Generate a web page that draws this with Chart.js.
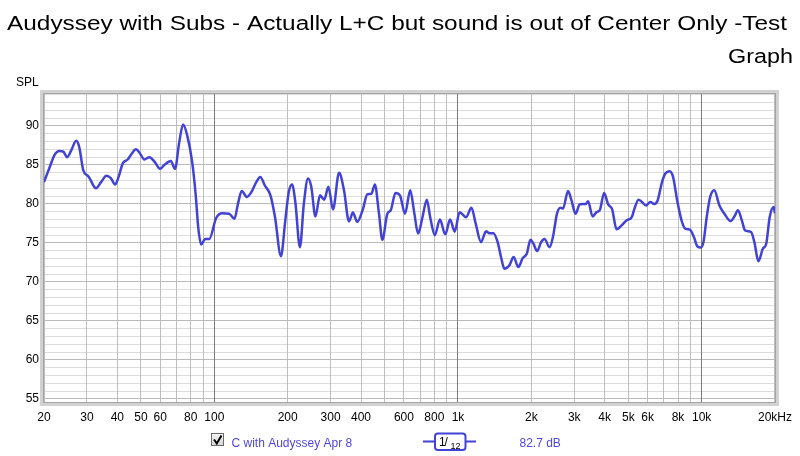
<!DOCTYPE html>
<html>
<head>
<meta charset="utf-8">
<title>Audyssey with Subs</title>
<script src="https://cdn.jsdelivr.net/npm/chart.js@4.4.1/dist/chart.umd.min.js"></script>
<style>
    html, body { margin: 0; padding: 0; background: #fff; }
    #wrap { width: 800px; height: 456px; position: relative; }
</style>
</head>
<body>
<div id="wrap"><canvas id="splChart"></canvas></div>
<script>
// Frequency response (Hz / dB SPL)
const freqs = [
    20, 21.1, 22.1, 23.1, 24.0, 24.9, 25.9, 27.1, 27.9, 29.0,
    30.5, 32.7, 34.3, 36.1, 37.6, 39.2, 40.5, 42.1, 44.1, 45.5, 47.7, 49.5,
    51.6, 54.2, 56.9, 59.9, 62.3, 66.3, 69.0, 71.7, 74.5, 77.4, 81.1, 83.8, 85.9, 88.3, 91.7, 95.3,
    101.8, 108, 115, 121, 125, 129.6, 136, 141.8, 148.7, 154.5, 161, 170, 177.5, 187.7, 195.6, 202, 208.5, 215,
    224.6, 233, 242.4, 250, 260, 271.5, 282.5, 294, 307, 325, 340.6, 357, 370.5, 386, 407, 424.6, 441, 456, 474, 489.5,
    513, 530, 554, 578, 606, 637, 661, 686, 715, 745, 769, 804, 843, 887, 928, 970, 1015,
    1079, 1136, 1184, 1243, 1304, 1346, 1397, 1455, 1502, 1550, 1624, 1692, 1769, 1843, 1915, 1984, 2040, 2112, 2194, 2265, 2377, 2453,
    2549, 2632, 2698, 2830, 2923, 3036, 3162, 3347, 3420, 3567, 3704, 3820, 3979, 4133, 4293, 4475, 4693, 4925, 5167,
    5300, 5510, 5690, 5910, 6155, 6392, 6597, 6876, 7098, 7393, 7636, 7935, 8268, 8588, 8946, 9297, 9600, 9910, 10170,
    10490, 10840, 11270, 11830, 12400, 13160, 13660, 14090, 14620, 15080, 15950, 16460, 17100, 17830, 18410, 19020, 19760, 20000
];
const spl = [
    82.8, 84.7, 86.3, 86.8, 86.7, 86.0, 86.9, 88.1, 87.3, 84.3,
    83.5, 82.0, 82.8, 83.6, 83.3, 82.5, 83.5, 85.2, 85.7, 86.3, 87.0, 86.5,
    85.7, 86.0, 85.4, 84.5, 85.0, 85.5, 84.5, 87.8, 90.2, 88.8, 85.4, 81.3, 77.0, 74.8, 75.5, 75.5,
    78.2, 78.8, 78.75, 78.1, 80.0, 81.65, 80.9, 81.5, 82.8, 83.45, 82.4, 81.1, 78.3, 73.3, 77.9, 81.5, 82.5, 80.25,
    74.45, 80.0, 83.25, 82.2, 78.4, 81.1, 80.55, 82.2, 79.3, 84.0, 81.75, 77.75, 78.9, 77.7, 79.3, 81.25, 81.3, 82.5, 78.75, 75.4,
    78.75, 79.2, 81.4, 81.1, 78.75, 81.75, 78.95, 76.2, 78.3, 80.55, 78.3, 76.0, 78.0, 76.1, 78.0, 76.45, 78.95,
    78.3, 79.5, 77.4, 75.1, 76.5, 76.25, 76.25, 75.1, 73.2, 71.7, 72.1, 73.2, 71.9, 73.05, 73.6, 75.4, 74.9, 73.95, 75.1, 75.5, 74.45, 75.75,
    78.75, 79.5, 79.4, 81.65, 80.45, 78.75, 79.95, 80.0, 80.35, 78.4, 78.95, 79.2, 81.4, 79.95, 79.3, 76.75, 77.25, 77.9, 78.3,
    79.4, 80.55, 80.25, 79.8, 80.25, 80.0, 80.45, 82.8, 83.9, 84.2, 83.45, 80.45, 77.9, 76.8, 76.7, 75.75, 74.55, 74.4, 75.1,
    78.3, 80.9, 81.75, 79.8, 78.75, 77.8, 78.45, 79.2, 77.9, 76.6, 76.4, 75.1, 72.65, 74.25, 74.9, 78.3, 79.6, 78.8
];

// Axis ticks
const xTicks = [20, 30, 40, 50, 60, 70, 80, 90, 100, 200, 300, 400, 500, 600, 700, 800, 900,
    1000, 2000, 3000, 4000, 5000, 6000, 7000, 8000, 9000, 10000, 20000];
const xTickLabels = ['20', '30', '40', '50', '60', '', '80', '', '100', '200', '300', '400', '', '600', '', '800', '',
    '1k', '2k', '3k', '4k', '5k', '6k', '', '8k', '', '10k', '20kHz'];
const xDecades = [100, 1000, 10000];
const yTicks = [55, 56, 57, 58, 59, 60, 61, 62, 63, 64, 65, 66, 67, 68, 69, 70, 71, 72, 73, 74,
    75, 76, 77, 78, 79, 80, 81, 82, 83, 84, 85, 86, 87, 88, 89, 90, 91, 92, 93, 94];
const yLabelStep = 5;

// Texts
const titleLines = ['Audyssey with Subs - Actually L+C but sound is out of Center Only -Test', 'Graph'];
const yAxisTitle = 'SPL';
const seriesName = 'C with Audyssey Apr 8';
const smoothingLabel = ['1', '/', '12'];
const seriesLevel = '82.7 dB';

const FONT = '"Liberation Sans", Arial, sans-serif';
const LINE_COLOR = '#4242d4';
const TEXT_BLUE = '#5046dc';

function fitText(ctx, text, x, y, w) {
    const m = ctx.measureText(text).width;
    ctx.save();
    ctx.translate(x, y);
    ctx.scale(w / m, 1);
    ctx.fillText(text, 0, 0);
    ctx.restore();
}

function roundRect(ctx, x, y, w, h, r) {
    ctx.beginPath();
    ctx.moveTo(x + r, y);
    ctx.lineTo(x + w - r, y);
    ctx.arcTo(x + w, y, x + w, y + r, r);
    ctx.lineTo(x + w, y + h - r);
    ctx.arcTo(x + w, y + h, x + w - r, y + h, r);
    ctx.lineTo(x + r, y + h);
    ctx.arcTo(x, y + h, x, y + h - r, r);
    ctx.lineTo(x, y + r);
    ctx.arcTo(x, y, x + r, y, r);
    ctx.closePath();
}

// Frame, title, axis title and the REW style legend row
const rewDecor = {
    id: 'rewDecor',
    beforeDraw(chart) {
        const ctx = chart.ctx;
        ctx.save();
        ctx.fillStyle = '#fff';
        ctx.fillRect(0, 0, chart.width, chart.height);
        ctx.restore();
    },
    afterDraw(chart) {
        const ctx = chart.ctx;
        const a = chart.chartArea;
        ctx.save();

        // plot frame
        ctx.strokeStyle = '#d2d2d2';
        ctx.lineWidth = 4;
        ctx.strokeRect(a.left - 2, a.top - 2, a.right - a.left + 4, a.bottom - a.top + 4);
        ctx.strokeStyle = '#a4a4a4';
        ctx.lineWidth = 1;
        ctx.strokeRect(a.left - 0.5, a.top - 0.5, a.right - a.left + 1, a.bottom - a.top + 1);

        // title
        ctx.fillStyle = '#000';
        ctx.textBaseline = 'alphabetic';
        ctx.textAlign = 'left';
        ctx.font = '20px ' + FONT;
        fitText(ctx, titleLines[0], 7, 29.5, 780);
        fitText(ctx, titleLines[1], 728, 62.5, 65);

        // y axis title
        ctx.font = '12px ' + FONT;
        ctx.fillText(yAxisTitle, 16, 85.5);

        // checkbox
        const grad = ctx.createLinearGradient(0, 433, 0, 446);
        grad.addColorStop(0, '#f6f6f6');
        grad.addColorStop(1, '#d4d4d4');
        ctx.fillStyle = grad;
        ctx.fillRect(211.5, 433.5, 12, 12);
        ctx.strokeStyle = '#6a6a6a';
        ctx.strokeRect(211.5, 433.5, 12, 12);
        ctx.strokeStyle = '#000';
        ctx.lineWidth = 2;
        ctx.beginPath();
        ctx.moveTo(214, 439.5);
        ctx.lineTo(216.8, 443.5);
        ctx.lineTo(221.5, 435.5);
        ctx.stroke();

        // series name
        ctx.fillStyle = TEXT_BLUE;
        ctx.font = '12px ' + FONT;
        ctx.fillText(seriesName, 231.5, 446.5);

        // smoothing symbol
        ctx.strokeStyle = LINE_COLOR;
        ctx.lineWidth = 2;
        ctx.beginPath();
        ctx.moveTo(423, 441.5);
        ctx.lineTo(476, 441.5);
        ctx.stroke();
        roundRect(ctx, 435, 433.5, 30.5, 16.5, 3);
        ctx.fillStyle = '#fff';
        ctx.fill();
        ctx.stroke();
        ctx.fillStyle = '#000';
        ctx.font = '12px ' + FONT;
        ctx.fillText(smoothingLabel[0], 439, 445.5);
        ctx.fillText(smoothingLabel[1], 444.5, 446);
        ctx.font = '9px ' + FONT;
        ctx.fillText(smoothingLabel[2], 450.5, 448.5);

        // level
        ctx.fillStyle = TEXT_BLUE;
        ctx.font = '12px ' + FONT;
        ctx.fillText(seriesLevel, 519.5, 446.5);

        ctx.restore();
    }
};

document.addEventListener('DOMContentLoaded', function() {
    const ctx = document.getElementById('splChart');
    new Chart(ctx, {
        type: 'line',
        data: {
            datasets: [{
                label: seriesName,
                data: freqs.map((f, i) => ({ x: f, y: spl[i] })),
                borderColor: LINE_COLOR,
                borderWidth: 2.5,
                pointRadius: 0,
                fill: false,
                cubicInterpolationMode: 'monotone'
            }]
        },
        options: {
            responsive: true,
            maintainAspectRatio: false,
            animation: false,
            layout: {
                padding: { top: 94, right: 22, left: 0, bottom: 0 }
            },
            plugins: {
                legend: { display: false },
                title: { display: false },
                tooltip: { enabled: false }
            },
            scales: {
                x: {
                    type: 'logarithmic',
                    min: 20,
                    max: 20000,
                    afterBuildTicks: s => { s.ticks = xTicks.map(v => ({ value: v })); },
                    afterFit: s => { s.height = 54; },
                    border: { display: false },
                    grid: {
                        z: -1,
                        drawTicks: false,
                        color: c => (c.tick && xDecades.includes(c.tick.value)) ? '#7c7c7c' : '#bebebe'
                    },
                    ticks: {
                        autoSkip: false,
                        maxRotation: 0,
                        minRotation: 0,
                        padding: 8,
                        color: '#000',
                        font: { family: FONT, size: 12 },
                        callback: (v, i) => xTickLabels[i]
                    }
                },
                y: {
                    type: 'linear',
                    min: 54.6,
                    max: 94.1,
                    afterBuildTicks: s => { s.ticks = yTicks.map(v => ({ value: v })); },
                    afterFit: s => { s.width = 44; },
                    border: { display: false },
                    grid: {
                        z: -2,
                        drawTicks: false,
                        color: c => (c.tick && c.tick.value % yLabelStep === 0) ? '#bababa' : '#dcdcdc'
                    },
                    ticks: {
                        autoSkip: false,
                        padding: 5,
                        color: '#000',
                        font: { family: FONT, size: 12 },
                        callback: v => (v % yLabelStep === 0 ? String(v) : '')
                    }
                }
            }
        },
        plugins: [rewDecor]
    });
});
</script>
</body>
</html>
